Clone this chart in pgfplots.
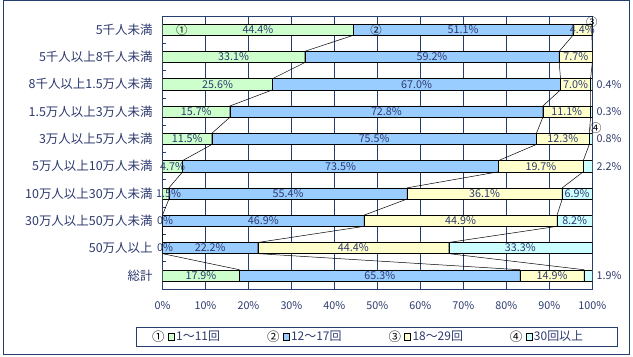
\documentclass[border=0pt]{standalone}
\usepackage{pgfplots}
\pgfplotsset{compat=1.18}
\usepackage{pgfplotstable}
\usepackage{fontspec}
\setmainfont{Noto Sans CJK JP}
\definecolor{navy}{RGB}{36,62,112}
\definecolor{txt}{RGB}{45,58,110}
\definecolor{cG}{RGB}{204,255,204}
\definecolor{cB}{RGB}{153,204,255}
\definecolor{cY}{RGB}{255,255,204}
\definecolor{cC}{RGB}{204,255,255}
\pgfplotstableread{
y a b c d
0 44.4 51.1 4.4 0
1 33.1 59.2 7.7 0
2 25.6 67.0 7.0 0.4
3 15.7 72.8 11.1 0.3
4 11.5 75.5 12.3 0.8
5 4.7 73.5 19.7 2.2
6 1.5 55.4 36.1 6.9
7 0 46.9 44.9 8.2
8 0 22.2 44.4 33.3
9 17.9 65.3 14.9 1.9
}\data
\newcommand{\lfont}{\fontsize{10.8}{12}\selectfont}
\begin{document}
\begin{tikzpicture}
\useasboundingbox (0,0) rectangle (633bp,357bp);
\draw[navy, line width=1bp] (3bp,2bp) rectangle (629bp,356bp);
\draw[navy, line width=0.9bp] (136.7bp,30bp) rectangle (617bp,11bp);
\begin{axis}[
  at={(162.5bp,68bp)}, anchor=south west,
  scale only axis, width=429.8bp, height=273bp,
  xbar stacked, bar width=11.2bp,
  xmin=0, xmax=100, ymin=-0.5, ymax=9.5, y dir=reverse,
  xtick={0,10,...,100},
  xticklabels={0\%,10\%,20\%,30\%,40\%,50\%,60\%,70\%,80\%,90\%,100\%},
  ytick={0,...,9},
  yticklabels={5千人未満,5千人以上8千人未満,8千人以上1.5万人未満,1.5万人以上3万人未満,3万人以上5万人未満,5万人以上10万人未満,10万人以上30万人未満,30万人以上50万人未満,50万人以上,総計},
  minor ytick={0.5,1.5,...,8.5},
  ytick pos=left, xtick pos=bottom,
  major tick length=0pt, minor tick length=4bp, tick align=inside,
  minor tick style={navy, line width=0.8bp},
  xmajorgrids, grid style={navy, line width=0.8bp},
  axis line style={navy, line width=0.8bp},
  tick label style={text=txt},
  xticklabel style={font=\lfont, yshift=-9bp},
  yticklabel style={font=\fontsize{12.5}{14}\selectfont, xshift=-6.5bp},
  legend style={draw=none, fill=none, inner sep=0pt,
    at={(-0.0244,-0.174)}, anchor=west, legend columns=4,
    font=\fontsize{12}{14}\selectfont, text=txt,
    /tikz/every even column/.append style={column sep=45bp}},
]
\addplot[fill=cG, draw=black, line width=0.5bp,
  legend image code/.code={\node[inner sep=0pt, text=black, font=\fontsize{12.5}{14}\selectfont] at (1bp,0bp) {①};
  \draw[fill=cG, draw=black, line width=0.4bp] (10.6bp,-3.3bp) rectangle (16.6bp,3.3bp);}]
  table[x=a, y=y] {\data};
\addlegendentry{1～11回}
\addplot[fill=cB, draw=black, line width=0.5bp,
  legend image code/.code={\node[inner sep=0pt, text=black, font=\fontsize{12.5}{14}\selectfont] at (1bp,0bp) {②};
  \draw[fill=cB, draw=black, line width=0.4bp] (10.6bp,-3.3bp) rectangle (16.6bp,3.3bp);}]
  table[x=b, y=y] {\data};
\addlegendentry{12～17回}
\addplot[fill=cY, draw=black, line width=0.5bp,
  legend image code/.code={\node[inner sep=0pt, text=black, font=\fontsize{12.5}{14}\selectfont] at (1bp,0bp) {③};
  \draw[fill=cY, draw=black, line width=0.4bp] (10.6bp,-3.3bp) rectangle (16.6bp,3.3bp);}]
  table[x=c, y=y] {\data};
\addlegendentry{18～29回}
\addplot[fill=cC, draw=black, line width=0.5bp,
  legend image code/.code={\node[inner sep=0pt, text=black, font=\fontsize{12.5}{14}\selectfont] at (1bp,0bp) {④};
  \draw[fill=cC, draw=black, line width=0.4bp] (10.6bp,-3.3bp) rectangle (16.6bp,3.3bp);}]
  table[x=d, y=y] {\data};
\addlegendentry{30回以上}
\end{axis}
\begin{axis}[
  at={(162.5bp,68bp)}, anchor=south west,
  scale only axis, width=429.8bp, height=273bp,
  xmin=0, xmax=100, ymin=-0.5, ymax=9.5, y dir=reverse,
  hide axis, clip=false,
]
% series lines
\addplot[black, line width=0.5bp, mark=none] coordinates {
 (44.4,-0.205)(44.4,0.205)(33.1,0.795)(33.1,1.205)(25.6,1.795)(25.6,2.205)(15.7,2.795)(15.7,3.205)(11.5,3.795)(11.5,4.205)(4.7,4.795)(4.7,5.205)(1.5,5.795)(1.5,6.205)(0,6.795)(0,7.205)(0,7.795)(0,8.205)(17.9,8.795)(17.9,9.205)};
\addplot[black, line width=0.5bp, mark=none] coordinates {
 (95.5,-0.205)(95.5,0.205)(92.3,0.795)(92.3,1.205)(92.6,1.795)(92.6,2.205)(88.5,2.795)(88.5,3.205)(87.0,3.795)(87.0,4.205)(78.2,4.795)(78.2,5.205)(56.9,5.795)(56.9,6.205)(46.9,6.795)(46.9,7.205)(22.2,7.795)(22.2,8.205)(83.2,8.795)(83.2,9.205)};
\addplot[black, line width=0.5bp, mark=none] coordinates {
 (99.9,-0.205)(99.9,0.205)(100,0.795)(100,1.205)(99.6,1.795)(99.6,2.205)(99.6,2.795)(99.6,3.205)(99.3,3.795)(99.3,4.205)(97.9,4.795)(97.9,5.205)(93.0,5.795)(93.0,6.205)(91.8,6.795)(91.8,7.205)(66.6,7.795)(66.6,8.205)(98.1,8.795)(98.1,9.205)};
% data labels
\addplot[draw=none, mark=none, nodes near coords, point meta=explicit symbolic,
  nodes near coords style={anchor=center, font=\lfont, text=txt, inner sep=0pt}]
 coordinates {
 (22.2,0)[44.4\%] (69.95,0)[51.1\%] (97.7,0)[4.4\%]
 (16.55,1)[33.1\%] (62.7,1)[59.2\%] (96.15,1)[7.7\%]
 (12.8,2)[25.6\%] (59.1,2)[67.0\%] (96.1,2)[7.0\%] (103.9,2)[0.4\%]
 (7.85,3)[15.7\%] (52.1,3)[72.8\%] (94.05,3)[11.1\%] (103.9,3)[0.3\%]
 (5.75,4)[11.5\%] (49.25,4)[75.5\%] (93.15,4)[12.3\%] (103.9,4)[0.8\%]
 (2.35,5)[4.7\%] (41.45,5)[73.5\%] (88.05,5)[19.7\%] (103.9,5)[2.2\%]
 (1.4,6)[1.5\%] (29.2,6)[55.4\%] (74.95,6)[36.1\%] (96.45,6)[6.9\%]
 (0.6,7)[0\%] (23.45,7)[46.9\%] (69.35,7)[44.9\%] (95.9,7)[8.2\%]
 (0.6,8)[0\%] (11.1,8)[22.2\%] (44.4,8)[44.4\%] (83.25,8)[33.3\%]
 (8.95,9)[17.9\%] (50.55,9)[65.3\%] (90.65,9)[14.9\%] (103.9,9)[1.9\%]
 };
% circled markers
\addplot[draw=none, mark=none, nodes near coords, point meta=explicit symbolic,
  nodes near coords style={anchor=center, font=\fontsize{11.5}{13}\selectfont, text=black, inner sep=0pt}]
 coordinates {(4.5,0)[①] (49.7,0)[②] (99.9,-0.27)[③] (100.8,3.59)[④]};
\end{axis}
\end{tikzpicture}
\end{document}
